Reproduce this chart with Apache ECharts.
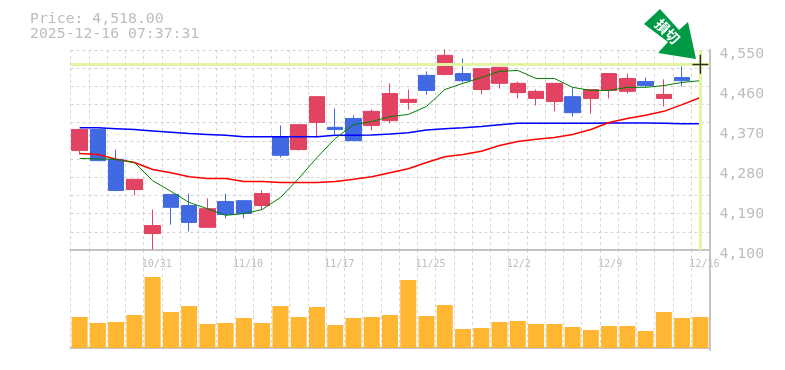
<!DOCTYPE html>
<html><head><meta charset="utf-8">
<script src="https://cdn.jsdelivr.net/npm/echarts@6/dist/echarts.min.js"></script>
<style>html,body{margin:0;padding:0;background:#fff}#c{width:785px;height:370px}</style></head>
<body><div id="c"></div>
<script>
const categories=['10/27','10/28','10/29','10/30','10/31','11/4','11/5','11/6','11/7','11/10','11/11','11/12','11/13','11/14','11/17','11/18','11/19','11/20','11/21','11/25','11/26','11/27','11/28','12/1','12/2','12/3','12/4','12/5','12/8','12/9','12/10','12/11','12/12','12/15','12/16'];
const opens=[4324,4371,4304,4236,4137,4225,4200,4151,4209,4211,4200,4353,4326,4387,4376,4396,4380,4391,4432,4493,4495,4497,4461,4475,4454,4441,4434,4445,4441,4459,4457,4479,4441,4488];
const closes=[4371,4301,4234,4259,4155,4196,4162,4193,4180,4182,4227,4313,4382,4445,4371,4346,4412,4452,4439,4459,4538,4481,4508,4511,4475,4457,4475,4409,4461,4497,4486,4470,4450,4481];
const lows=[4315,4301,4234,4223,4101,4157,4142,4151,4171,4171,4191,4308,4324,4353,4360,4346,4369,4385,4416,4450,4493,4477,4450,4463,4441,4425,4412,4400,4407,4441,4452,4466,4423,4468];
const highs=[4371,4371,4326,4259,4191,4225,4227,4216,4227,4211,4234,4380,4382,4445,4418,4403,4416,4475,4461,4502,4551,4531,4508,4511,4479,4461,4475,4466,4461,4497,4497,4488,4484,4513];
const maGreen=[4306,4305,4304,4297,4256,4232,4207,4193,4178,4182,4191,4218,4261,4308,4351,4382,4389,4400,4405,4423,4461,4475,4488,4502,4504,4486,4486,4466,4459,4459,4466,4466,4470,4477,4481];
const maRed=[4317,4315,4304,4297,4281,4274,4265,4261,4261,4254,4254,4252,4252,4252,4254,4259,4265,4274,4283,4297,4310,4315,4322,4335,4344,4349,4353,4360,4371,4387,4396,4403,4412,4427,4443];
const maBlue=[4375,4375,4373,4371,4368,4365,4362,4360,4358,4355,4355,4355,4355,4355,4358,4358,4359,4361,4364,4370,4373,4375,4378,4382,4385,4385,4385,4385,4385,4386,4386,4386,4385,4384,4384];
const volumes=[31,25,26,33,71,36,42,24,25,30,25,42,31,41,23,30,31,33,68,32,43,19,20,26,27,24,24,21,18,22,22,17,36,30,31];
const lastPrice=4518;
const priceText='Price: 4,518.00';
const timeText='2025-12-16 07:37:31';
const arrowText='損切';

const gray='#bdbdbd', mono='"DejaVu Sans Mono", monospace';
const dash={color:'#d6d6d6',type:[3,3],width:1};
const border={color:'#c4c4c4',width:2};
const lastCat=categories[categories.length-1];
const candleData=opens.map((o,i)=>[o,closes[i],lows[i],highs[i]]);
const ma=(data,color,width)=>({type:'line',data,xAxisIndex:0,yAxisIndex:0,showSymbol:false,symbol:'none',smooth:false,z:3,animation:false,lineStyle:{color,width},silent:true});
const chart=echarts.init(document.getElementById('c'),null,{renderer:'canvas'});
chart.setOption({
  animation:false,backgroundColor:'#fff',
  title:{text:priceText+'\n'+timeText,left:25,top:7,textStyle:{color:gray,fontFamily:mono,fontSize:14.8,fontWeight:'normal',lineHeight:15}},
  grid:[{left:70.5,top:50,width:639,height:200},{left:70.5,top:250,width:639,height:100}],
  xAxis:[0,1].map(g=>({type:'category',gridIndex:g,data:categories,boundaryGap:true,
    axisLine:{show:true,lineStyle:border},axisTick:{show:false},
    axisLabel:{show:g===0,interval:i=>i%5===4,color:gray,fontFamily:mono,fontSize:10,margin:9,align:'left',padding:[0,0,0,-11]},
    splitLine:{show:true,interval:0,lineStyle:dash}})),
  yAxis:[
    {type:'value',gridIndex:0,position:'right',min:4100,max:4550,interval:90,
     axisLine:{show:true,lineStyle:border},axisTick:{show:false},splitLine:{show:false},
     axisLabel:{color:gray,fontFamily:mono,fontSize:14.8,margin:10,verticalAlign:'top',lineHeight:8,formatter:v=>v.toLocaleString('en-US')}},
    {type:'value',gridIndex:1,position:'right',min:-2,max:98,
     axisLine:{show:true,lineStyle:border},axisTick:{show:false},axisLabel:{show:false},splitLine:{show:false}},
    {type:'value',gridIndex:0,position:'left',min:0,max:11,interval:1,
     axisLine:{show:false},axisTick:{show:false},axisLabel:{show:false},splitLine:{show:true,lineStyle:dash}}
  ],
  series:[
    {type:'line',data:[],xAxisIndex:0,yAxisIndex:0,z:1,silent:true,
     markLine:{silent:true,symbol:'none',animation:false,label:{show:false},lineStyle:{color:'#e2f5a2',width:3,type:'solid'},
       data:[{yAxis:lastPrice},{xAxis:lastCat}]}},
    {type:'candlestick',data:candleData,xAxisIndex:0,yAxisIndex:0,barWidth:16,z:2,silent:true,
     itemStyle:{color:'#e24362',color0:'#4169e1',borderColor:'#e24362',borderColor0:'#4169e1',borderWidth:1}},
    ma(maBlue,'#0000ff',1.5),ma(maRed,'#ff0000',1.5),ma(maGreen,'#008000',1),
    {type:'scatter',data:[[lastCat,lastPrice]],xAxisIndex:0,yAxisIndex:0,z:5,silent:true,symbol:'path://M0,9H16V10.5H0Z M7.25,0H8.75V19H7.25Z',symbolSize:[16,19],symbolKeepAspect:false,itemStyle:{color:'#000'}},
    {type:'bar',data:volumes,xAxisIndex:1,yAxisIndex:1,barWidth:16,z:2,silent:true,itemStyle:{color:'#ffb733'}}
  ],
  graphic:[
    {type:'polygon',z:100,silent:true,shape:{points:[[660,9],[644,24],[668,42],[658,53],[696,59],[688,22],[679,30]]},style:{fill:'#009944'}},
    {type:'text',z:101,silent:true,x:667.5,y:31.5,rotation:-Math.PI/4,style:{text:arrowText,fill:'#fff',fontFamily:'"Noto Sans CJK JP"',fontWeight:'bold',fontSize:14,align:'center',verticalAlign:'middle'}}
  ]
});
</script></body></html>
